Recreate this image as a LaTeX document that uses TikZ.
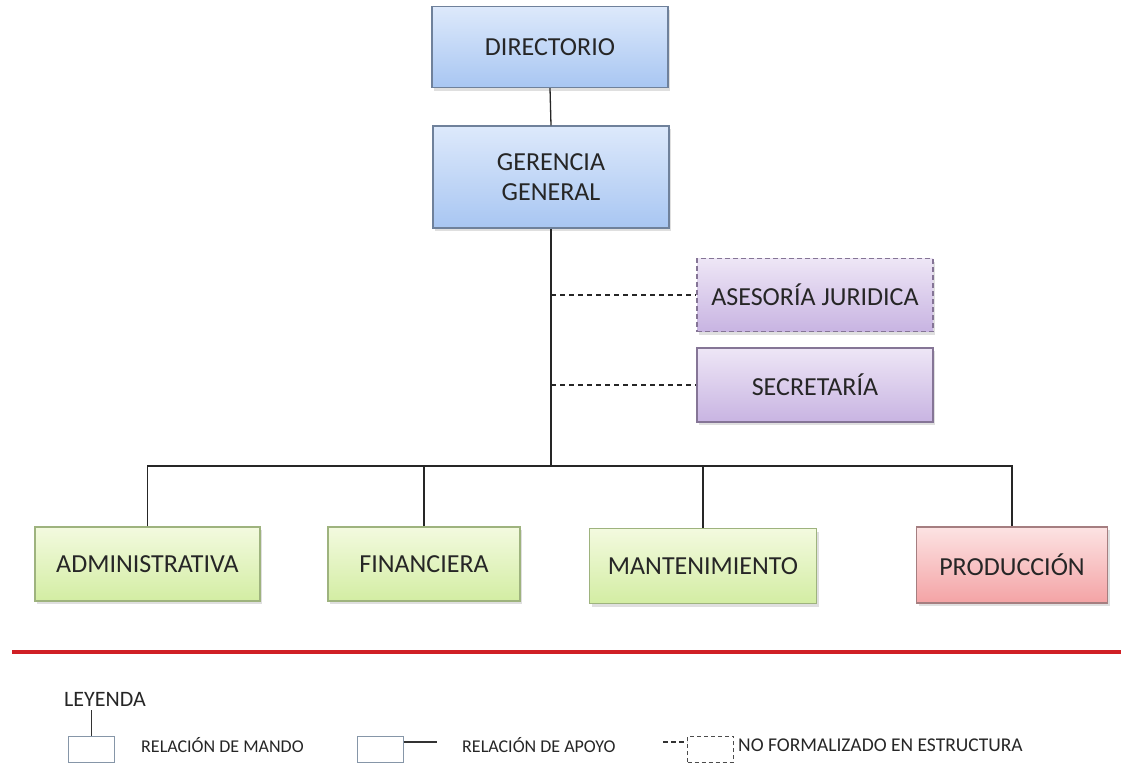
\documentclass[tikz,border=0pt]{standalone}
\usepackage{fontspec}
\setmainfont{Carlito}
\usetikzlibrary{shadows}
\definecolor{txt}{HTML}{262626}
\definecolor{blueT}{HTML}{DDE9FB}
\definecolor{blueB}{HTML}{A8C6F2}
\definecolor{blueD}{HTML}{6F819B}
\definecolor{purT}{HTML}{EEE6F6}
\definecolor{purB}{HTML}{C8B4E2}
\definecolor{purD}{HTML}{857596}
\definecolor{grnT}{HTML}{F3FADF}
\definecolor{grnB}{HTML}{D3EDA3}
\definecolor{grnD}{HTML}{9EB37E}
\definecolor{redT}{HTML}{FCE3E3}
\definecolor{redB}{HTML}{F4A3A5}
\definecolor{redD}{HTML}{A57E80}
\definecolor{legD}{HTML}{8696A8}
\definecolor{redline}{HTML}{D01F25}
\tikzset{
  orgbox/.style={rectangle, draw, line width=1.2pt, text=txt, align=center,
    font=\fontsize{26}{31}\selectfont, inner sep=0pt,
    drop shadow={shadow xshift=2pt, shadow yshift=-3pt, opacity=0.25}},
  bluebox/.style={orgbox, draw=blueD, top color=blueT, bottom color=blueB},
  purbox/.style={orgbox, draw=purD, top color=purT, bottom color=purB},
  grnbox/.style={orgbox, draw=grnD, top color=grnT, bottom color=grnB},
  redbox/.style={orgbox, draw=redD, top color=redT, bottom color=redB},
  link/.style={draw=black!85, line width=1.3pt},
  dlink/.style={link, dashed, dash pattern=on 5pt off 4pt},
  legbox/.style={rectangle, draw=legD, line width=1pt, minimum width=46pt, minimum height=26pt, inner sep=0pt},
  legtxt/.style={text=txt, font=\fontsize{18}{21}\selectfont, anchor=west, inner sep=0pt},
}
\begin{document}
\begin{tikzpicture}[x=1pt,y=-1pt]
\useasboundingbox (0,0) rectangle (1121,764);
% main boxes
\node[bluebox, minimum width=236pt, minimum height=81pt] (dir) at (550,47) {DIRECTORIO};
\node[bluebox, minimum width=236pt, minimum height=102pt] (ger) at (551,177) {GERENCIA\\[-1pt]GENERAL};
\node[purbox, dash pattern=on 5pt off 3pt, minimum width=236pt, minimum height=73pt] (ase) at (815,295) {ASESORÍA JURIDICA};
\node[purbox, minimum width=236pt, minimum height=74pt] (sec) at (815,385) {SECRETARÍA};
\node[grnbox, minimum width=225pt, minimum height=74pt] (adm) at (147.5,564) {ADMINISTRATIVA};
\node[grnbox, minimum width=192pt, minimum height=74pt] (fin) at (424,564) {FINANCIERA};
\node[grnbox, minimum width=227pt, minimum height=75pt] (man) at (703,566) {MANTENIMIENTO};
\node[redbox, minimum width=191pt, minimum height=76pt] (pro) at (1012,565) {PRODUCCIÓN};
\coordinate (bar) at (551,466);
% connectors
\draw[link] (dir.south) -- (ger.north);
\draw[link] (ger.south) -- (bar);
\draw[link] (adm.north) |- (pro.north |- bar) -- (pro.north);
\draw[link] (fin.north) -- (fin.north |- bar);
\draw[link] (man.north) -- (man.north |- bar);
\draw[dlink] (bar |- ase.west) -- (ase.west);
\draw[dlink] (bar |- sec.west) -- (sec.west);
% red separator
\coordinate (rl) at (12,652);
\coordinate (rr) at (1121,652);
\draw[redline, line width=3.2pt] (rl) -- (rr);
% legend
\node[text=txt, font=\fontsize{22}{26}\selectfont, inner sep=0pt] (ley) at (105,699) {LEYENDA};
\node[legbox] (lb1) at (91.5,749) {};
\coordinate (lb1top) at (91.5,710);
\draw[black!80, line width=1.3pt] (lb1top) -- (lb1.north);
\node[legtxt] (lt1) at (141,745) {RELACIÓN DE MANDO};
\node[legbox] (lb2) at (380,749) {};
\coordinate (lb2end) at (437,742);
\draw[black!80, line width=1.3pt] (lb2.east |- lb2end) -- (lb2end);
\node[legtxt] (lt2) at (462,745) {RELACIÓN DE APOYO};
\node[legbox, draw=black!70, dashed, dash pattern=on 4pt off 3pt] (lb3) at (710.5,749) {};
\coordinate (lb3start) at (663,742);
\draw[black!80, line width=1.3pt, dash pattern=on 5pt off 3pt] (lb3start) -- (lb3.west |- lb3start);
\node[legtxt, font=\fontsize{19.5}{23}\selectfont] (lt3) at (738,745) {NO FORMALIZADO EN ESTRUCTURA};
\end{tikzpicture}
\end{document}
